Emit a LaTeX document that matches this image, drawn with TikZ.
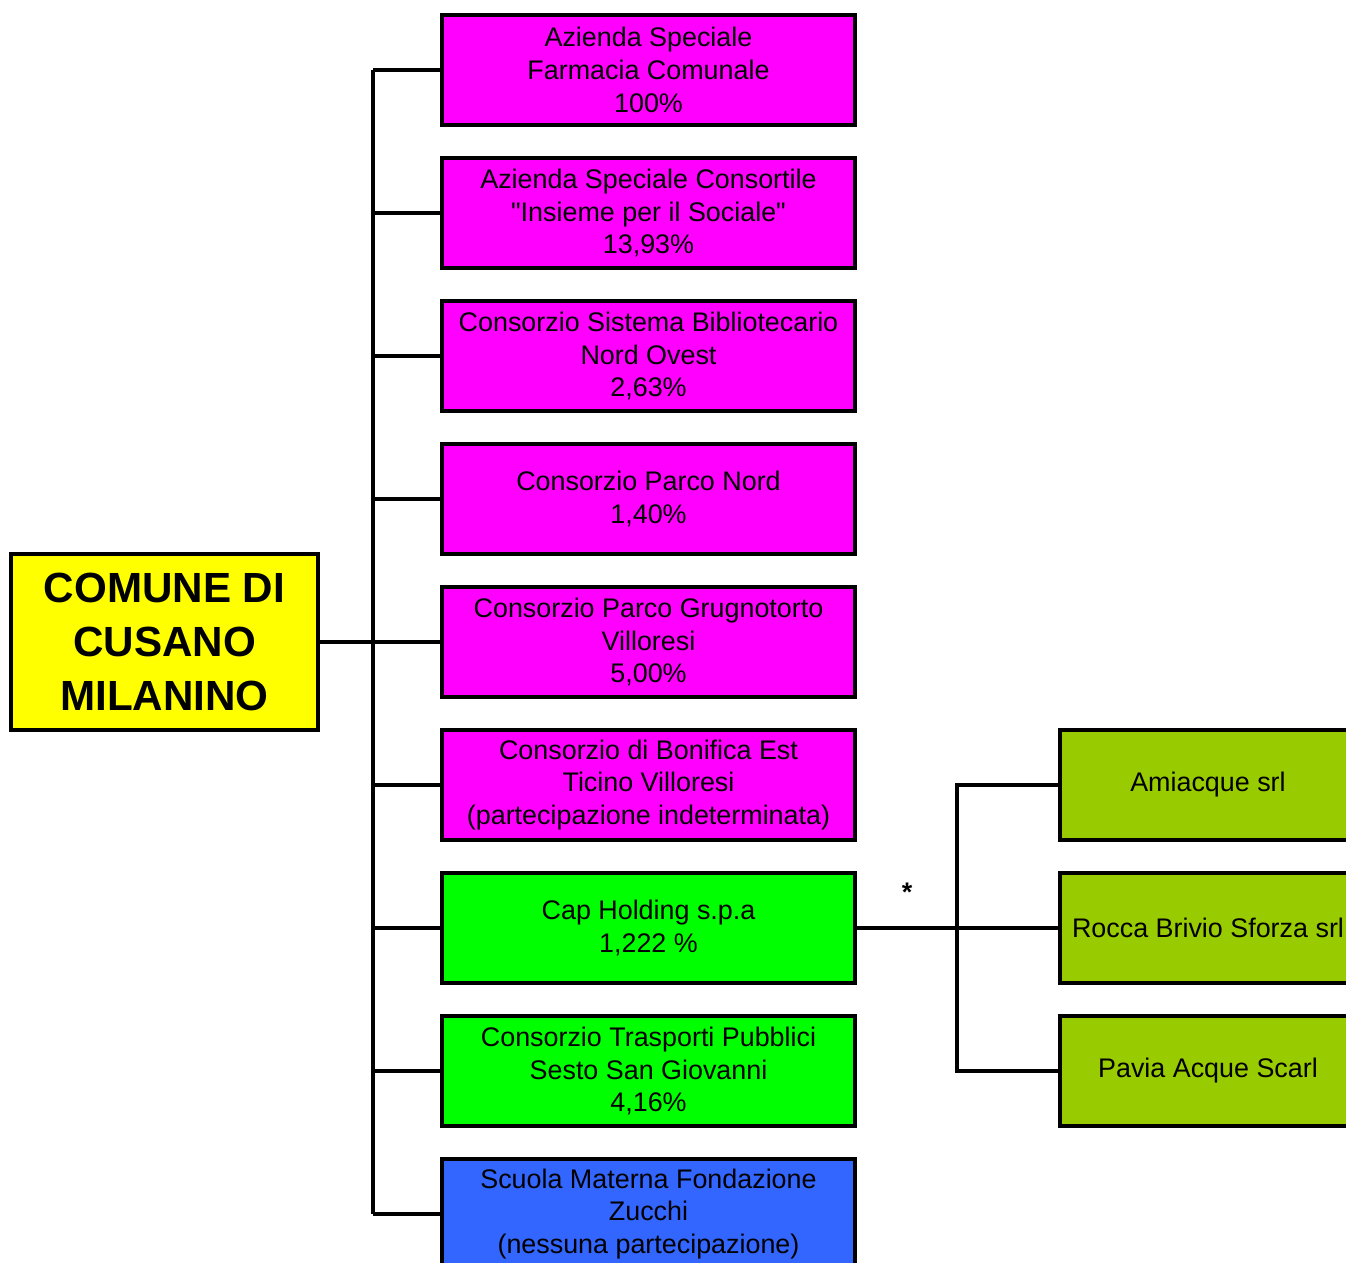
\documentclass[tikz,border=0pt]{standalone}
\usepackage{fontspec}
\setmainfont{Liberation Sans}[Ligatures=TeXOff]
\usetikzlibrary{calc}
\definecolor{ente}{HTML}{FF00FF}
\definecolor{cap}{HTML}{00FF00}
\definecolor{scuola}{HTML}{3366FF}
\definecolor{societa}{HTML}{99CC00}
\definecolor{comune}{HTML}{FFFF00}
\tikzstyle{block} = [rectangle, minimum width=8.26cm, minimum height=2.2cm, text centered, align=center, line width=2pt, draw=black, inner sep=0pt, font=\fontsize{15.3}{18.7}\selectfont]
\tikzstyle{line} = [line width=2pt]
\newcommand{\rowdist}{2.86cm}

\begin{document}
\begin{tikzpicture}[node distance=\rowdist]

  \useasboundingbox (0,0) rectangle (26.92,-25.26);

  % Partecipate
  \node [block, fill=ente] (farmacia) at (12.97,-1.4) {Azienda Speciale\\Farmacia Comunale\\100\%};

  \node [block, fill=ente, below of=farmacia] (sociale) {Azienda Speciale Consortile\\"Insieme per il Sociale"\\13,93\%};

  \node [block, fill=ente, below of=sociale] (biblio) {Consorzio Sistema Bibliotecario\\Nord Ovest\\2,63\%};

  \node [block, fill=ente, below of=biblio] (parconord) {Consorzio Parco Nord\\1,40\%};

  \node [block, fill=ente, below of=parconord] (grugnotorto) {Consorzio Parco Grugnotorto\\Villoresi\\5,00\%};

  \node [block, fill=ente, below of=grugnotorto] (bonifica) {Consorzio di Bonifica Est\\Ticino Villoresi\\(partecipazione indeterminata)};

  \node [block, fill=cap, below of=bonifica] (capholding) {Cap Holding s.p.a\\1,222 \%};

  \node [block, fill=cap, below of=capholding] (trasporti) {Consorzio Trasporti Pubblici\\Sesto San Giovanni\\4,16\%};

  \node [block, fill=scuola, below of=trasporti] (zucchi) {Scuola Materna Fondazione\\Zucchi\\(nessuna partecipazione)};



  % Comune
  \node [block, fill=comune, left of=grugnotorto, node distance=9.68cm, minimum width=6.14cm, minimum height=3.52cm, font=\fontsize{24}{30.6}\selectfont\bfseries] (cusano) {COMUNE DI\\CUSANO\\MILANINO};



  % Societa' di Cap Holding
  \node [block, fill=societa, right of=bonifica, node distance=11.19cm, minimum width=5.92cm] (amiacque) {Amiacque srl};

  \node [block, fill=societa, right of=capholding, node distance=11.19cm, minimum width=5.92cm] (rocca) {Rocca Brivio Sforza srl};

  \node [block, fill=societa, right of=trasporti, node distance=11.19cm, minimum width=5.92cm] (pavia) {Pavia Acque Scarl};



  % tronco
  \coordinate (trunk) at (7.46,0);
  \draw [line] (trunk |- farmacia) -- (trunk |- zucchi);
  \draw [line] (cusano.east) -- (trunk |- cusano);
  \foreach \ente in {farmacia, sociale, biblio, parconord, grugnotorto, bonifica, capholding, trasporti, zucchi}
    \draw [line] (trunk |- \ente) -- (\ente.west);



  % Cap Holding
  \coordinate (branch) at (19.14,0);
  \draw [line] (capholding.east) -- node [pos=0.25, above=0.38cm, font=\fontsize{15.3}{16}\selectfont\bfseries] (star) {*} (rocca.west);
  \draw [line] (amiacque.west) -- (branch |- amiacque) -- (branch |- pavia) -- (pavia.west);

\end{tikzpicture}
\end{document}
